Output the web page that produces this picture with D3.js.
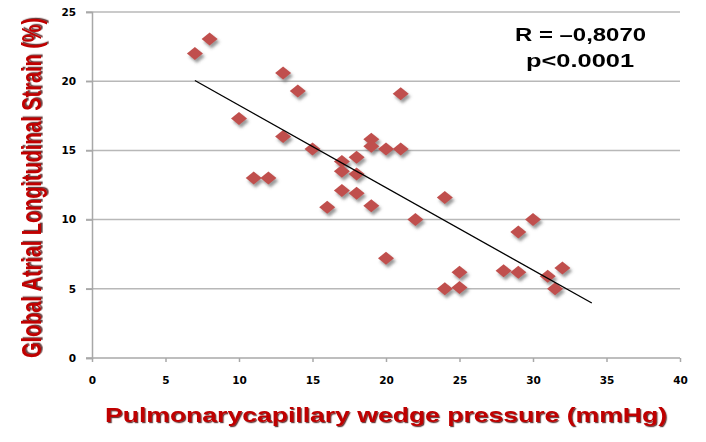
<!DOCTYPE html>
<html><head><meta charset="utf-8">
<script src="https://cdn.jsdelivr.net/npm/d3@7/dist/d3.min.js"></script>
<style>html,body{margin:0;padding:0;background:#fff;}svg{display:block;}</style>
</head><body>
<svg id="chart" width="706" height="442"></svg>
<script>
const pcwp   = [7, 8, 13, 14, 10, 13, 11, 12, 15, 17, 17, 18, 18, 17, 16, 18, 19, 19, 19, 20, 21, 21, 22, 20, 24, 24, 25, 25, 28, 29, 29, 30, 31, 31.5, 32];
const strain = [22.0, 23.05, 20.6, 19.3, 17.3, 16.0, 13.0, 13.0, 15.1, 14.2, 13.5, 14.5, 13.3, 12.1, 10.9, 11.9, 11.0, 15.8, 15.3, 15.1, 15.1, 19.1, 10.0, 7.2, 11.6, 5.0, 6.2, 5.1, 6.3, 6.2, 9.1, 10.0, 5.9, 5.0, 6.5];
const trendX = [7, 34];
const trendY = [20.05, 3.97];
const xTicks = [0, 5, 10, 15, 20, 25, 30, 35, 40];
const yTicks = [0, 5, 10, 15, 20, 25];
const xTitle = "Pulmonarycapillary wedge pressure (mmHg)";
const yTitle = "Global Atrial Longitudinal Strain (%)";
const statLines = ["R = \u20130,8070", "p<0.0001"];

const svg = d3.select("#chart");
const x = d3.scaleLinear().domain([0, 40]).range([92, 680]);
const y = d3.scaleLinear().domain([0, 25]).range([358, 12]);

const defs = svg.append("defs");
defs.append("filter").attr("id", "mshadow").attr("x", "-50%").attr("y", "-50%").attr("width", "200%").attr("height", "200%")
  .append("feDropShadow").attr("dx", 2).attr("dy", 3).attr("stdDeviation", 1.4)
  .attr("flood-color", "#555").attr("flood-opacity", 0.6);
defs.append("filter").attr("id", "tshadow").attr("x", "-10%").attr("y", "-30%").attr("width", "120%").attr("height", "160%")
  .append("feDropShadow").attr("dx", 1.2).attr("dy", 1.2).attr("stdDeviation", 0.4)
  .attr("flood-color", "#3a0000").attr("flood-opacity", 0.75);

// gridlines
svg.append("g").selectAll("line").data(yTicks.filter(d => d > 0)).join("line")
  .attr("x1", 86).attr("x2", x(40))
  .attr("y1", d => y(d)).attr("y2", d => y(d))
  .attr("stroke", "#b8b8b8").attr("stroke-width", 1.5);

// y axis
const yAxis = svg.append("g").attr("transform", `translate(${x(0)},0)`)
  .call(d3.axisLeft(y).tickValues(yTicks).tickSize(6).tickPadding(10).tickFormat(d3.format("d")));
yAxis.select(".domain").attr("stroke", "#a8a8a8").attr("stroke-width", 1.5);
yAxis.selectAll(".tick line").attr("stroke", "#a8a8a8").attr("stroke-width", 1.5);
yAxis.selectAll("text").attr("font-family", "DejaVu Sans").attr("font-weight", "bold").attr("font-size", 10.5).attr("fill", "#000");

// x axis
const xAxis = svg.append("g").attr("transform", `translate(0,${y(0)})`)
  .call(d3.axisBottom(x).tickValues(xTicks).tickSize(4).tickPadding(15).tickFormat(d3.format("d")));
xAxis.select(".domain").attr("d", `M86,0H${x(40)}`).attr("stroke", "#a8a8a8").attr("stroke-width", 1.5);
xAxis.selectAll(".tick line").attr("stroke", "#a8a8a8").attr("stroke-width", 1.5);
xAxis.selectAll("text").attr("font-family", "DejaVu Sans").attr("font-weight", "bold").attr("font-size", 10.5).attr("fill", "#000");

// points
const pts = pcwp.map((v, i) => ({ x: v, y: strain[i] }));
svg.append("g").attr("filter", "url(#mshadow)").selectAll("path").data(pts).join("path")
  .attr("transform", d => `translate(${x(d.x)},${y(d.y)})`)
  .attr("d", "M0,-6.5L8,0L0,6.5L-8,0Z")
  .attr("fill", "#c0504d");

// trendline
svg.append("line")
  .attr("x1", x(trendX[0])).attr("y1", y(trendY[0]))
  .attr("x2", x(trendX[1])).attr("y2", y(trendY[1]))
  .attr("stroke", "#000").attr("stroke-width", 1.3);

// stats text
const sw = [131, 108];
const sxs = [515, 526];
const sys = [40.5, 67];
statLines.forEach((t, i) => {
  svg.append("text").attr("x", sxs[i]).attr("y", sys[i])
    .attr("font-family", "Liberation Sans, Arial, sans-serif").attr("font-weight", "bold")
    .attr("font-size", 17.5).attr("textLength", sw[i]).attr("lengthAdjust", "spacingAndGlyphs")
    .attr("fill", "#000").text(t);
});

// axis titles
svg.append("text").attr("x", 105).attr("y", 422)
  .attr("font-family", "Liberation Sans, Arial, sans-serif").attr("font-weight", "bold")
  .attr("font-size", 20.5).attr("textLength", 562).attr("lengthAdjust", "spacingAndGlyphs")
  .attr("fill", "#c00000").attr("filter", "url(#tshadow)").text(xTitle);

svg.append("text").attr("transform", "translate(41,188) rotate(-90) scale(1,1.37)")
  .attr("text-anchor", "middle")
  .attr("font-family", "Liberation Sans, Arial, sans-serif").attr("font-weight", "bold")
  .attr("font-size", 19.5).attr("textLength", 340).attr("lengthAdjust", "spacingAndGlyphs")
  .attr("fill", "#c00000").attr("filter", "url(#tshadow)").text(yTitle);
</script>
</body></html>
